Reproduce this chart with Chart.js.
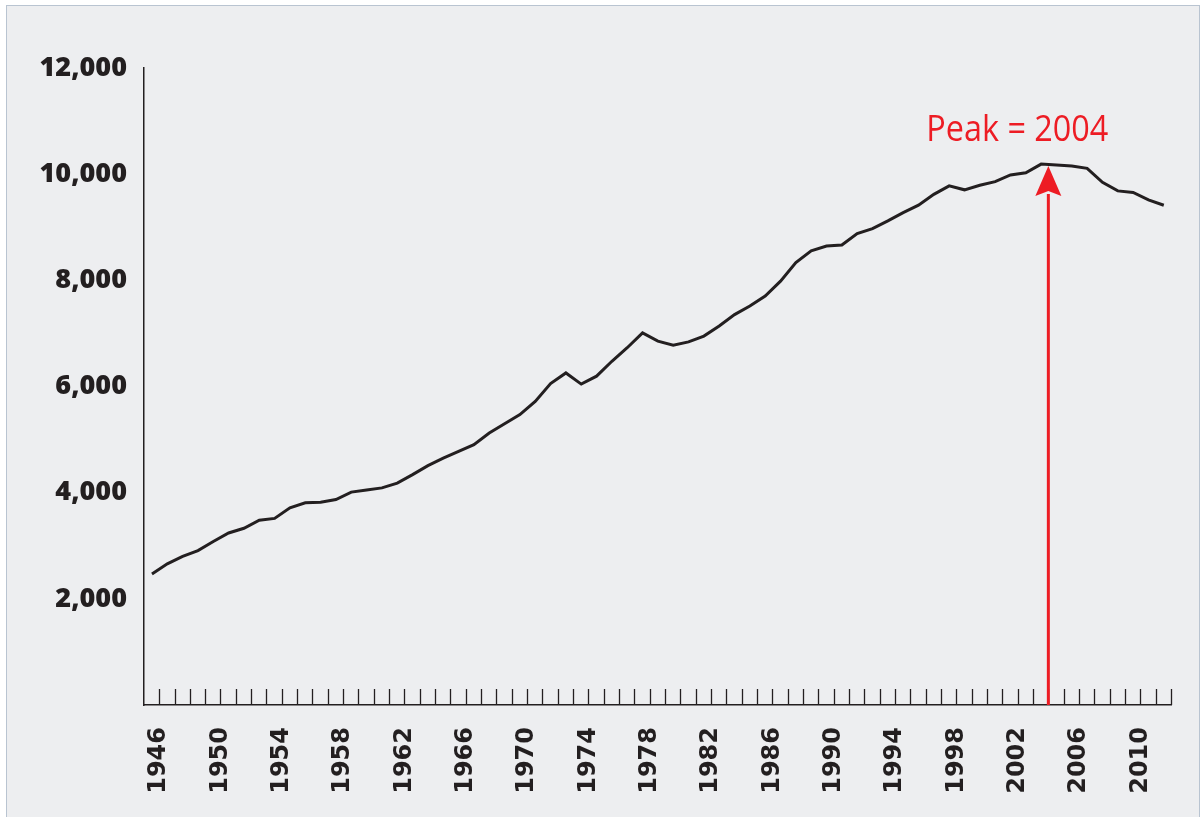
<!DOCTYPE html>
<html>
<head>
<meta charset="utf-8">
<script src="https://cdn.jsdelivr.net/npm/chart.js@4"></script>
<style>
    html, body { margin: 0; padding: 0; background: #ffffff; }
    #frame {
        position: absolute; left: 6px; top: 5px; width: 1194px; height: 830px;
        background: #edeef0; border: 1.5px solid #b9c4d1; box-sizing: border-box;
    }
    #wrap { position: absolute; left: 0; top: 0; width: 1204px; height: 817px; }
</style>
</head>
<body>
<div id="frame"></div>
<div id="wrap"><canvas id="chart" width="1204" height="817"></canvas></div>
<script>
/* ---------- Data ---------- */
const years = [
    1946, 1947, 1948, 1949, 1950, 1951, 1952, 1953, 1954, 1955,
    1956, 1957, 1958, 1959, 1960, 1961, 1962, 1963, 1964, 1965,
    1966, 1967, 1968, 1969, 1970, 1971, 1972, 1973, 1974, 1975,
    1976, 1977, 1978, 1979, 1980, 1981, 1982, 1983, 1984, 1985,
    1986, 1987, 1988, 1989, 1990, 1991, 1992, 1993, 1994, 1995,
    1996, 1997, 1998, 1999, 2000, 2001, 2002, 2003, 2004, 2005,
    2006, 2007, 2008, 2009, 2010, 2011, 2012
];
const values = [
    2470, 2660, 2800, 2910, 3080, 3240, 3330, 3480, 3515, 3715,
    3810, 3820, 3870, 4010, 4050, 4090, 4180, 4340, 4510, 4650,
    4780, 4905, 5125, 5300, 5470, 5720, 6055, 6255, 6045, 6195,
    6475, 6730, 7010, 6855, 6780, 6840, 6950, 7140, 7355, 7515,
    7705, 7985, 8335, 8555, 8645, 8665, 8880, 8975, 9120, 9275,
    9415, 9620, 9780, 9705, 9790, 9860, 9985, 10025, 10190, 10175,
    10155, 10110, 9845, 9685, 9655, 9515, 9415
];
const labelYears = [1946, 1950, 1954, 1958, 1962, 1966, 1970, 1974, 1978, 1982, 1986, 1990, 1994, 1998, 2002, 2006, 2010];
const yTicks = [0, 2000, 4000, 6000, 8000, 10000, 12000];
const peakYear = 2004;
const peakLabel = 'Peak = 2004';

/* ---------- Style ---------- */
const INK = '#231f20';
const RED = '#ed1c24';
const TICK_SHIFT = 0.47;   // year ticks sit a little right of the data points

/* ---------- Plugin: inside year ticks + peak arrow ---------- */
const extras = {
    id: 'extras',
    afterDatasetsDraw(chart) {
        const ctx = chart.ctx;
        const xs = chart.scales.x, ys = chart.scales.y;
        const bottom = chart.chartArea.bottom;

        // year ticks pointing up into the plot
        ctx.save();
        ctx.strokeStyle = INK;
        ctx.lineWidth = 1.3;
        years.forEach(y => {
            const px = Math.round(xs.getPixelForValue(y + TICK_SHIFT)) + 0.5;
            ctx.beginPath();
            ctx.moveTo(px, bottom);
            ctx.lineTo(px, bottom - 16);
            ctx.stroke();
        });
        ctx.restore();

        // arrow
        const i = years.indexOf(peakYear);
        const ax = xs.getPixelForValue(peakYear + TICK_SHIFT);
        const tipY = ys.getPixelForValue(values[i]) + 2;
        const headH = 30, headW = 13;
        ctx.save();
        ctx.strokeStyle = RED;
        ctx.fillStyle = RED;
        ctx.lineWidth = 3;
        ctx.beginPath();
        ctx.moveTo(ax, bottom);
        ctx.lineTo(ax, tipY + headH - 2);
        ctx.stroke();
        ctx.beginPath();
        ctx.moveTo(ax, tipY);
        ctx.lineTo(ax + headW, tipY + headH);
        ctx.lineTo(ax, tipY + headH - 5);
        ctx.lineTo(ax - headW, tipY + headH);
        ctx.closePath();
        ctx.fill();

        // label, a little condensed
        ctx.font = '36px "Open Sans"';
        ctx.textBaseline = 'alphabetic';
        ctx.textAlign = 'left';
        const w = ctx.measureText(peakLabel).width;
        const sx = 182 / w;
        const cx = ax - 31;
        ctx.translate(cx - 91, tipY - 25);
        ctx.scale(sx, 1);
        ctx.fillText(peakLabel, 0, 0);
        ctx.restore();
    }
};

/* ---------- Chart ---------- */
const ctx = document.getElementById('chart').getContext('2d');
new Chart(ctx, {
    type: 'line',
    data: {
        datasets: [{
            data: years.map((y, i) => ({ x: y, y: values[i] })),
            borderColor: INK,
            borderWidth: 3,
            pointRadius: 0,
            tension: 0,
            fill: false
        }]
    },
    options: {
        responsive: false,
        animation: false,
        layout: { padding: { left: 0, top: 68, right: 33, bottom: 0 } },
        plugins: { legend: { display: false }, tooltip: { enabled: false } },
        scales: {
            x: {
                type: 'linear',
                min: 1945.48,
                max: 2012.47,
                grid: { display: false, drawTicks: false },
                border: { display: true, color: INK, width: 1.5 },
                afterBuildTicks: s => { s.ticks = labelYears.map(y => ({ value: y + TICK_SHIFT })); },
                afterFit: s => { s.height = 112; },
                ticks: {
                    autoSkip: false,
                    minRotation: 90,
                    maxRotation: 90,
                    padding: 22,
                    color: INK,
                    font: { family: '"DejaVu Sans"', weight: 'bold', size: 24 },
                    callback: v => String(Math.round(v))
                }
            },
            y: {
                min: 0,
                max: 12000,
                grid: { display: false, drawTicks: false },
                border: { display: true, color: INK, width: 1.5 },
                afterBuildTicks: s => { s.ticks = yTicks.map(v => ({ value: v })); },
                afterFit: s => { s.width = 144; },
                ticks: {
                    padding: 17,
                    color: INK,
                    font: { family: '"Open Sans"', weight: 800, size: 27 },
                    callback: v => v === 0 ? '' : v.toLocaleString('en-US')
                }
            }
        }
    },
    plugins: [extras]
});
</script>
</body>
</html>
